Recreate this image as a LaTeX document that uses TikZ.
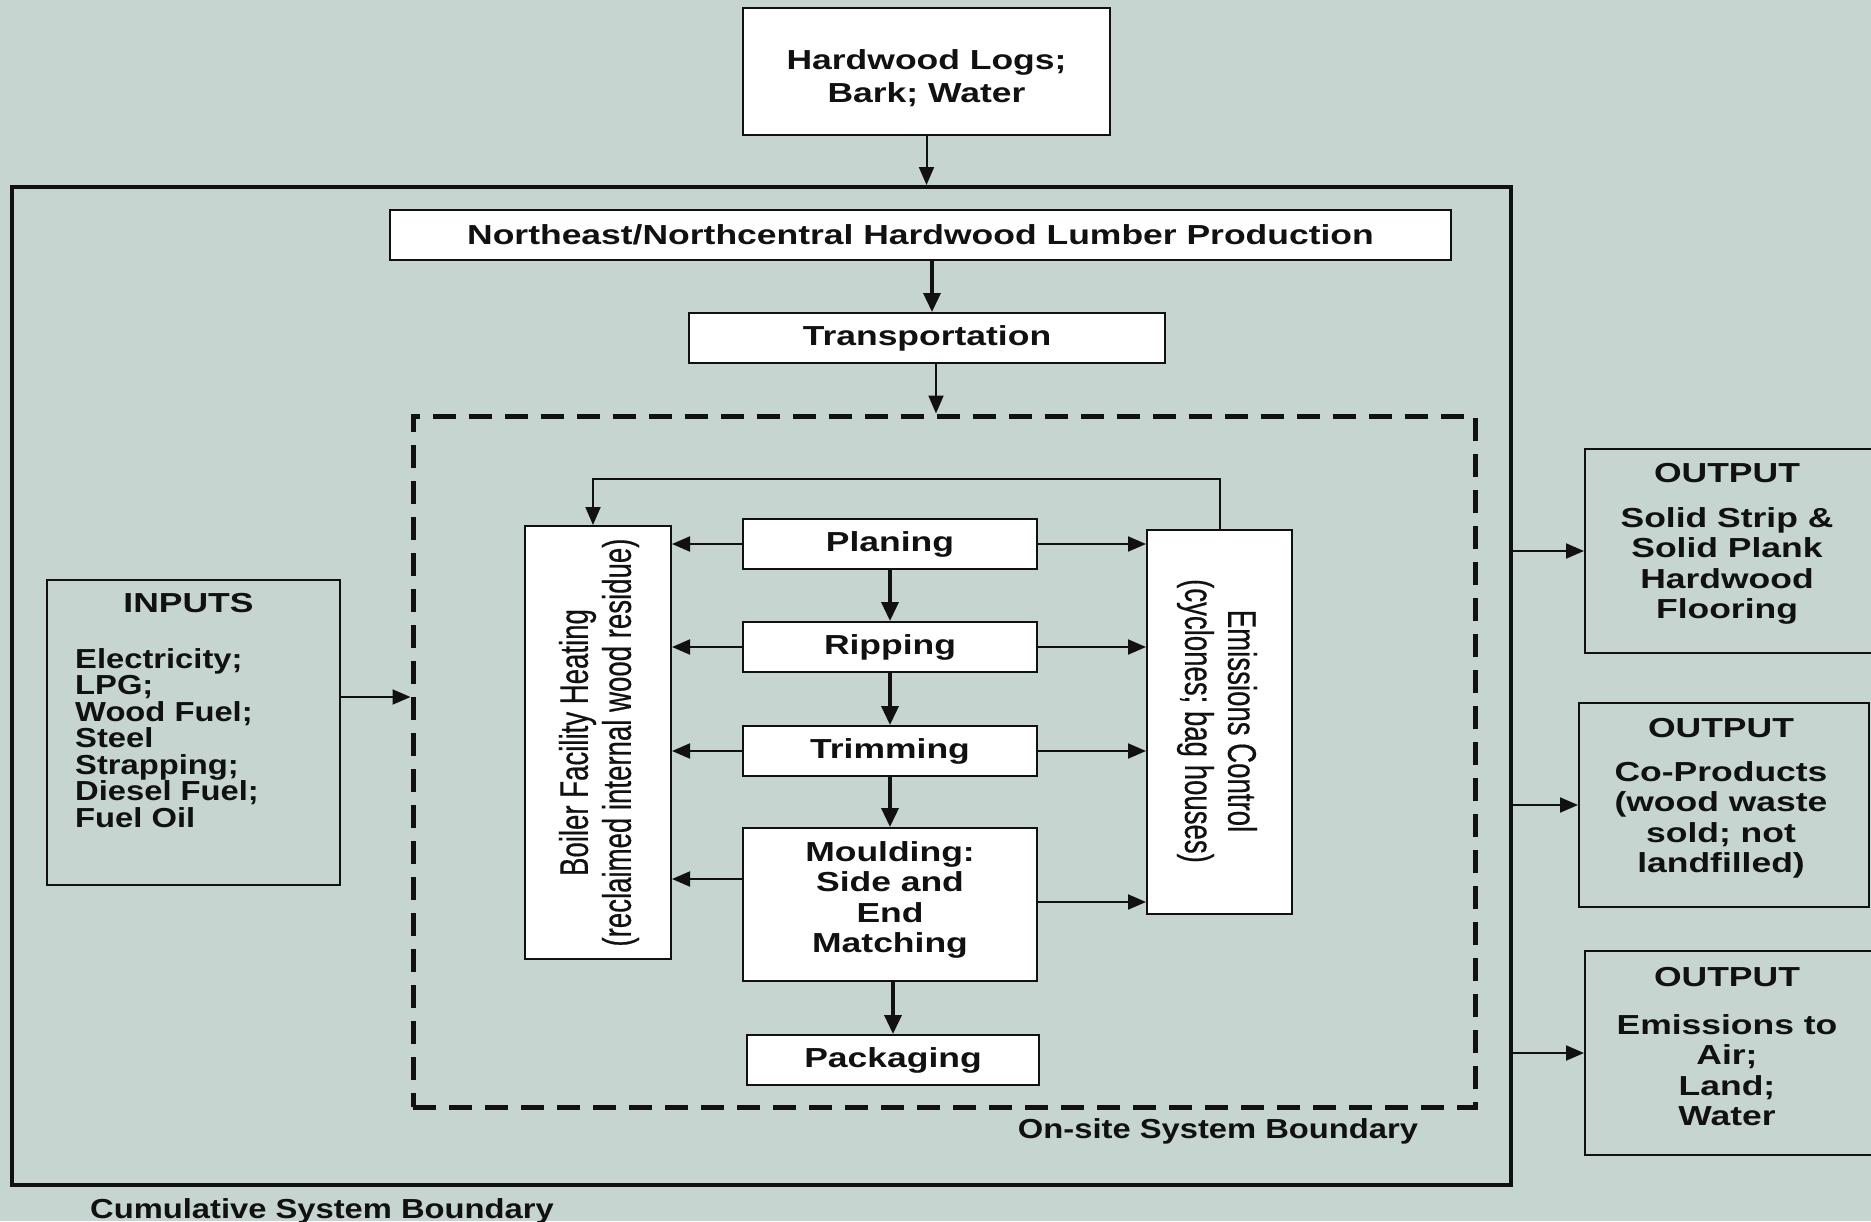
\documentclass[tikz,border=0pt]{standalone}
\usepackage{fontspec}
\setmainfont{Liberation Sans}
\newfontfamily\wb[FakeStretch=1.29]{Liberation Sans Bold}
\newfontfamily\nb[FakeStretch=1.19]{Liberation Sans Bold}
\newfontfamily\cn[FakeStretch=0.69,FakeBold=0.4]{Liberation Sans}
\usetikzlibrary{arrows.meta}
\definecolor{bgc}{RGB}{198,213,208}
\definecolor{ink}{RGB}{17,17,17}
\tikzset{
  box/.style={draw=ink, line width=2pt, fill=white, inner sep=0pt, text=ink,
    font=\wb\fontsize{27.5}{30.5}\selectfont, align=center},
  obox/.style={draw=ink, line width=2pt, inner sep=0pt},
  wtxt/.style={inner sep=0pt, text=ink, align=center, font=\wb\fontsize{27.5}{30.5}\selectfont},
  ntxt/.style={inner sep=0pt, text=ink, align=left, font=\nb\fontsize{27.5}{26.5}\selectfont},
  ctxt/.style={inner sep=0pt, text=ink, align=center, font=\cn\fontsize{40}{43}\selectfont},
  arr/.style={draw=ink, line width=2pt, -{Triangle[length=18pt,width=15pt]}},
  tarr/.style={draw=ink, line width=3.5pt, -{Triangle[length=19pt,width=17pt]}},
}
\begin{document}
\begin{tikzpicture}[x=1pt,y=-1pt]
\useasboundingbox (0,0) rectangle (1871,1221);
\fill[bgc] (0,0) rectangle (1871,1221);
\begin{scope}
\clip (0,0) rectangle (1871,1221);
% boundaries
\node[draw=ink, line width=4pt, minimum width=1499pt, minimum height=998pt, inner sep=0pt] (cum) at (761.5,686) {};
\node[draw=ink, line width=5pt, dash pattern=on 23pt off 13pt, minimum width=1062pt, minimum height=691pt, inner sep=0pt] (dash) at (944,761.5) {};
% boxes
\node[box, minimum width=367pt, minimum height=127pt] (top) at (926.5,71.5) {};
\node[wtxt, font=\wb\fontsize{27.5}{33}\selectfont] (topt) at (926.5,78) {Hardwood Logs;\\Bark; Water};
\node[box, minimum width=1061pt, minimum height=50pt] (ne) at (920.5,235) {Northeast/Northcentral Hardwood Lumber Production};
\node[box, minimum width=476pt, minimum height=50pt] (tr) at (927,338) {Transportation};
\node[box, minimum width=146pt, minimum height=433pt] (boil) at (598,742.5) {};
\node[ctxt, rotate=90] (boilt) at (599,742.5) {Boiler Facility Heating\\(reclaimed internal wood residue)};
\node[box, minimum width=145pt, minimum height=384pt] (emis) at (1219.5,722) {};
\node[ctxt, rotate=-90] (emist) at (1217,721) {Emissions Control\\(cyclones; bag houses)};
\node[box, minimum width=294pt, minimum height=50pt] (plan) at (890,544) {Planing};
\node[box, minimum width=294pt, minimum height=50pt] (rip) at (890,647) {Ripping};
\node[box, minimum width=294pt, minimum height=50pt] (trim) at (890,751) {Trimming};
\node[box, minimum width=294pt, minimum height=153pt] (mould) at (890,904.5) {};
\node[wtxt] (mouldt) at (890,900) {Moulding:\\Side and\\End\\Matching};
\node[box, minimum width=292pt, minimum height=50pt] (pack) at (893,1060) {Packaging};
% inputs
\node[obox, minimum width=293pt, minimum height=305pt] (inp) at (193.5,732.5) {};
\node[wtxt] (inph) at (188.5,603) {INPUTS};
\node[ntxt, anchor=north west] (inpl) at (75,648) {Electricity;\\LPG;\\Wood Fuel;\\Steel\\Strapping;\\Diesel Fuel;\\Fuel Oil};
% outputs
\node[obox, minimum width=305pt, minimum height=204pt] (out1) at (1737.5,551) {};
\node[wtxt] (out1h) at (1727,473) {OUTPUT};
\node[wtxt] (out1t) at (1727,566) {Solid Strip \&\\Solid Plank\\Hardwood\\Flooring};
\node[obox, minimum width=290pt, minimum height=204pt] (out2) at (1724,805) {};
\node[wtxt] (out2h) at (1721,728) {OUTPUT};
\node[wtxt] (out2t) at (1721,820) {Co-Products\\(wood waste\\sold; not\\landfilled)};
\node[obox, minimum width=305pt, minimum height=204pt] (out3) at (1737.5,1053) {};
\node[wtxt] (out3h) at (1727,977) {OUTPUT};
\node[wtxt] (out3t) at (1727,1070) {Emissions to\\Air;\\Land;\\Water};
% labels
\node[inner sep=0pt, text=ink, font=\nb\fontsize{27.5}{30}\selectfont] (onsite) at (1218,1131) {On-site System Boundary};
\node[inner sep=0pt, text=ink, font=\nb\fontsize{27.5}{30}\selectfont] (cuml) at (322,1211) {Cumulative System Boundary};
% connectors
\draw[arr] (top.south) -- (top.south |- cum.north);
\draw[tarr] ([xshift=11.5pt]ne.south) -- ([xshift=11.5pt]ne.south |- tr.north);
\draw[arr] ([xshift=9pt]tr.south) -- ([xshift=9pt]tr.south |- dash.north);
\draw[arr] ([yshift=35.5pt]inp.east) -- ([yshift=35.5pt]inp.east -| dash.west);
\draw[arr] (emis.north) -- ++(0,-50) -| ([xshift=-5pt]boil.north);
\draw[tarr] (plan.south) -- (rip.north);
\draw[tarr] (rip.south) -- (trim.north);
\draw[tarr] (trim.south) -- (mould.north);
\draw[tarr] (pack.north |- mould.south) -- (pack.north);
\draw[arr] (plan.west) -- (plan.west -| boil.east);
\draw[arr] (rip.west) -- (rip.west -| boil.east);
\draw[arr] (trim.west) -- (trim.west -| boil.east);
\draw[arr] ([yshift=25.5pt]mould.west) -- ([yshift=25.5pt]mould.west -| boil.east);
\draw[arr] (plan.east) -- (plan.east -| emis.west);
\draw[arr] (rip.east) -- (rip.east -| emis.west);
\draw[arr] (trim.east) -- (trim.east -| emis.west);
\draw[arr] ([yshift=2.5pt]mould.east) -- ([yshift=2.5pt]mould.east -| emis.west);
\draw[arr] (out1.west -| cum.east) -- (out1.west);
\draw[arr] (out2.west -| cum.east) -- (out2.west);
\draw[arr] (out3.west -| cum.east) -- (out3.west);
\end{scope}
\end{tikzpicture}
\end{document}
